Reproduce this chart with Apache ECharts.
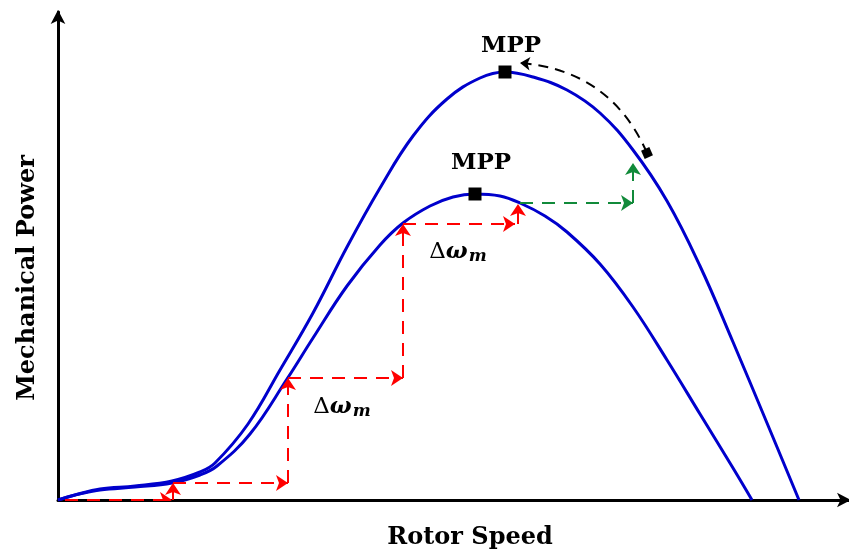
<!DOCTYPE html>
<html><head><meta charset="utf-8">
<script src="https://cdn.jsdelivr.net/npm/echarts@6/dist/echarts.min.js"></script>
<style>html,body{margin:0;padding:0;background:#fff}#c{width:849px;height:552px}</style>
</head><body><div id="c"></div>
<script>
// Schematic curves: [rotor speed, mechanical power] in arbitrary units
const lowerCurve = [[0,0],[17,5],[42,10],[77,13],[114,17],[142,25],[159,34],[192,66],[229,121],[255,162],[289,214],[322,255],[345,277],[372,294],[395,303],[417,306],[442,304],[462,297],[487,284],[509,268],[542,236],[575,193],[609,140],[642,86],[675,32],[694,0]];
const upperCurve = [[0,0],[17,5],[42,11],[77,14],[114,19],[142,28],[157,37],[190,76],[222,130],[255,187],[289,253],[322,312],[355,364],[389,401],[422,422],[447,428],[475,423],[509,410],[542,387],[575,350],[609,299],[642,234],[675,158],[709,77],[741,0]];
const mppPoints = [[447,428],[417,306]];
const mppLabels = ['MPP','MPP'];
// Perturb & observe steps (red), then step after wind change (green)
const redSteps = [[[7,0],[114,0]],[[115,0],[115,17]],[[115,17],[230,17]],[[230,17],[230,122]],[[230,122],[345,122]],[[345,122],[345,276]],[[345,276],[457,276]],[[460,276],[460,296]]];
const greenSteps = [[[462,297],[575,297]],[[575,297],[575,337]]];
const arcArrow = [[589,347],[462,437]];
const deltaLabelPos = [[284,93],[400,248]];
const xName = 'Rotor Speed';
const yName = 'Mechanical Power';

const chart = echarts.init(document.getElementById('c'));
const serif = 'DejaVu Serif';
const deltaRich = {
  d:{fontFamily:serif,fontSize:23,color:'#000'},
  w:{fontFamily:serif,fontSize:23,fontWeight:'bold',fontStyle:'italic',color:'#000'},
  m:{fontFamily:serif,fontSize:17,fontWeight:'bold',fontStyle:'italic',color:'#000',verticalAlign:'bottom',padding:[10,0,0,1]}
};
chart.setOption({
  animation:false,
  grid:{left:58,right:0,top:12,bottom:52,outerBoundsMode:'none',containLabel:false},
  xAxis:{type:'value',min:0,max:791,name:xName,nameLocation:'middle',nameGap:26,
    nameTextStyle:{fontFamily:serif,fontWeight:'bold',fontSize:24,color:'#000',padding:[0,0,0,33]},
    axisLine:{lineStyle:{color:'#000',width:3},symbol:['none','arrow'],symbolSize:[11,14],symbolOffset:[0,2]},
    axisTick:{show:false},axisLabel:{show:false},splitLine:{show:false}},
  yAxis:{type:'value',min:0,max:488,name:yName,nameLocation:'middle',nameGap:18,
    nameTextStyle:{fontFamily:serif,fontWeight:'bold',fontSize:24,color:'#000',padding:[0,44,0,0]},
    axisLine:{lineStyle:{color:'#000',width:3},symbol:['none','arrow'],symbolSize:[11,14],symbolOffset:[0,2]},
    axisTick:{show:false},axisLabel:{show:false},splitLine:{show:false}},
  series:[
    {type:'line',data:upperCurve,smooth:0.4,showSymbol:false,lineStyle:{color:'#0000cc',width:3},z:3},
    {type:'line',data:lowerCurve,smooth:0.4,showSymbol:false,lineStyle:{color:'#0000cc',width:3},z:3},
    {type:'lines',coordinateSystem:'cartesian2d',z:4,
      data:redSteps.map(c=>({coords:c})),
      symbol:['none','arrow'],symbolSize:12,
      lineStyle:{color:'#ff0000',width:2,type:[13,9],opacity:1}},
    {type:'lines',coordinateSystem:'cartesian2d',z:4,
      data:greenSteps.map(c=>({coords:c})),
      symbol:['none','arrow'],symbolSize:12,
      lineStyle:{color:'#118a3a',width:2,type:[13,9],opacity:1}},
    {type:'lines',coordinateSystem:'cartesian2d',z:4,
      data:[{coords:arcArrow}],
      symbol:['rect','arrow'],symbolSize:[9,10],
      lineStyle:{color:'#000',width:2,type:[10,7],curveness:-0.3,opacity:1}},
    {type:'scatter',data:mppPoints.map((p,i)=>({value:p,label:{formatter:mppLabels[i],distance:i?13:8}})),
      symbol:'rect',symbolSize:13,itemStyle:{color:'#000',opacity:1},z:5,
      label:{show:true,position:'top',offset:[6,0],fontFamily:serif,fontWeight:'bold',fontSize:23,color:'#000',opacity:1}},
    {type:'scatter',data:deltaLabelPos,symbolSize:0,z:5,itemStyle:{opacity:1},
      label:{show:true,position:'inside',formatter:'{d|Δ}{w|ω}{m|m}',rich:deltaRich,opacity:1}}
  ]
});
</script></body></html>
